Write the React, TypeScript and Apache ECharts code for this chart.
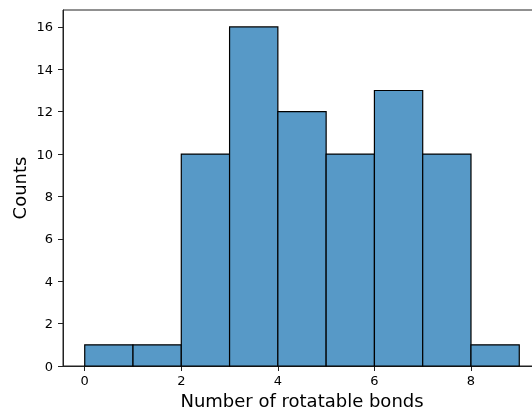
import React, { useEffect, useRef } from "react";
import * as echarts from "echarts";

const binStarts = [0, 1, 2, 3, 4, 5, 6, 7, 8];
const binEnds = [1, 2, 3, 4, 5, 6, 7, 8, 9];
const counts = [1, 1, 10, 16, 12, 10, 13, 10, 1];
const xTicks = [0, 2, 4, 6, 8];
const yTicks = [0, 2, 4, 6, 8, 10, 12, 14, 16];

export default function App() {
  const ref = useRef<HTMLDivElement>(null);
  useEffect(() => {
    if (!ref.current) return;
    const chart = echarts.init(ref.current, null, { renderer: "svg" });
    const font = "DejaVu Sans";
    const data = binStarts.map((s, i) => [s, binEnds[i], counts[i]]);
    chart.setOption({
      animation: false,
      textStyle: { fontFamily: font },
      grid: {
        left: 63,
        top: 10,
        width: 478,
        height: 356,
        show: true,
        borderColor: "#222",
        borderWidth: 1,
        backgroundColor: "transparent",
        containLabel: false,
        outerBoundsMode: "none",
      },
      xAxis: {
        type: "value",
        min: -0.45,
        max: 9.45,
        name: "Number of rotatable bonds",
        nameLocation: "middle",
        nameGap: 25,
        nameTextStyle: { fontSize: 18, color: "#000", fontFamily: font },
        axisLine: { show: true, onZero: false, lineStyle: { color: "#222", width: 1 } },
        axisTick: { show: true, length: 5, customValues: xTicks, lineStyle: { color: "#222" } },
        axisLabel: { customValues: xTicks, fontSize: 13, color: "#000", margin: 8, fontFamily: font },
        splitLine: { show: false },
      },
      yAxis: {
        type: "value",
        min: 0,
        max: 16.8,
        name: "Counts",
        nameLocation: "middle",
        nameGap: 35,
        nameMoveOverlap: false,
        nameTextStyle: { fontSize: 18, color: "#000", fontFamily: font },
        axisLine: { show: true, onZero: false, lineStyle: { color: "#222", width: 1 } },
        axisTick: { show: true, length: 5, customValues: yTicks, lineStyle: { color: "#222" } },
        axisLabel: { customValues: yTicks, fontSize: 13, color: "#000", margin: 10, fontFamily: font },
        splitLine: { show: false },
      },
      series: [
        {
          type: "custom",
          data,
          encode: { x: [0, 1], y: 2 },
          renderItem: (params: any, api: any) => {
            const p0 = api.coord([api.value(0), api.value(2)]);
            const p1 = api.coord([api.value(1), 0]);
            return {
              type: "rect",
              shape: { x: p0[0], y: p0[1], width: p1[0] - p0[0], height: p1[1] - p0[1] },
              style: { fill: "#5799c7", stroke: "#000", lineWidth: 1.2 },
            };
          },
        },
      ],
    });
    return () => chart.dispose();
  }, []);
  return (
    <div
      ref={ref}
      style={{ position: "fixed", left: 0, top: 0, width: 532, height: 412, overflow: "hidden" }}
    />
  );
}
